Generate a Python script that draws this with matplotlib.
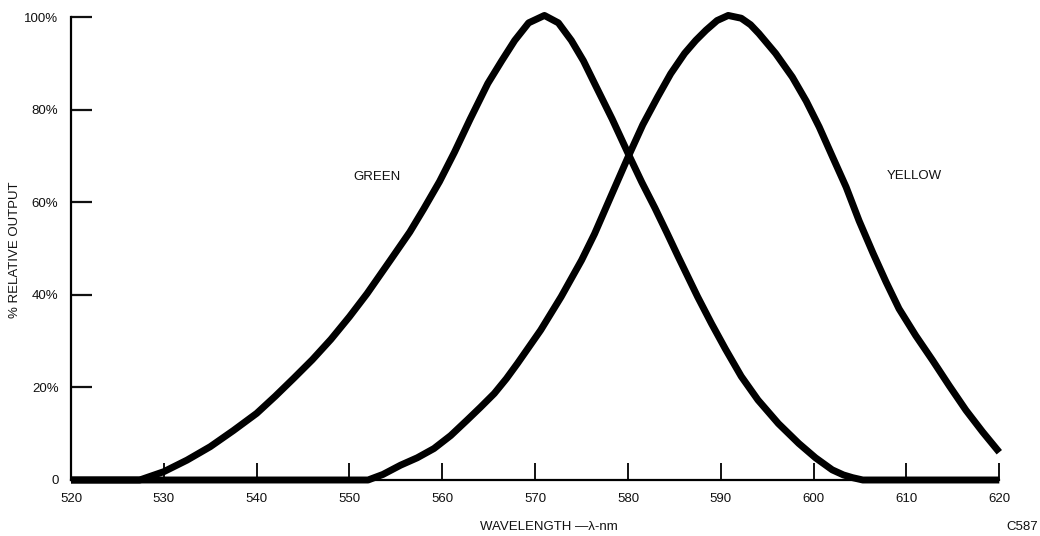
import matplotlib
matplotlib.use("Agg")
import matplotlib.pyplot as plt

plt.rcParams['font.family'] = ['Liberation Sans', 'DejaVu Sans']

# Data
green_nm = [520, 527.4, 530, 532.5, 535, 537.5, 540, 542, 544, 546, 548, 550,
            551.9, 554.4, 556.5, 558, 559.7, 561.3, 563, 564.9, 566.4, 567.8,
            569.3, 571.0, 572.5, 573.9, 575.2, 576.4, 578.3, 580.1, 581.5,
            582.9, 584.2, 585.4, 587.5, 589, 590.5, 592.2, 594, 596.2, 598.4,
            600.2, 602, 603.2, 604.2, 605.3, 620]
green_pct = [0, 0, 1.8, 4.3, 7.2, 10.7, 14.4, 18.1, 22.0, 26.0, 30.4, 35.3,
             40.3, 47.5, 53.6, 58.6, 64.5, 70.8, 78.0, 85.7, 90.6, 95.0,
             98.8, 100.4, 98.8, 95.0, 90.6, 85.7, 78.0, 70.2, 64.3,
             58.8, 53.4, 48.3, 39.6, 33.8, 28.3, 22.4, 17.3, 12.2, 7.9,
             4.8, 2.2, 1.1, 0.5, 0, 0]

yellow_nm = [520, 552.0, 553.6, 555.5, 557.3, 559.1, 560.9, 562.7, 564.1,
             565.6, 566.9, 568.1, 570.6, 572.8, 575.0, 576.4, 578.2, 580.1,
             581.6, 583.2, 584.6, 586.1, 587.3, 588.4, 589.6, 590.8, 592.2,
             593.2, 594.1, 595.9, 597.7, 599.2, 600.6, 602.0, 603.5, 604.9,
             606.4, 607.8, 609.2, 611.0, 612.8, 614.6, 616.4, 618.2, 620]
yellow_pct = [0, 0, 1.2, 3.2, 4.8, 6.8, 9.6, 13.0, 15.7, 18.7, 21.9, 25.2,
              32.4, 39.6, 47.5, 53.2, 61.5, 70.2, 76.8, 82.8, 87.8, 92.2,
              95.0, 97.2, 99.3, 100.4, 99.8, 98.4, 96.5, 92.2, 87.1, 81.9,
              76.3, 70.0, 63.3, 56.0, 49.0, 42.8, 37.0, 31.2, 25.9, 20.4,
              15.1, 10.4, 6.0]

x_ticks = [520, 530, 540, 550, 560, 570, 580, 590, 600, 610, 620]
y_ticks = [0, 20, 40, 60, 80, 100]
y_tick_labels = ['0', '20%', '40%', '60%', '80%', '100%']

fig = plt.figure(figsize=(10.4, 5.36), dpi=100)
ax = fig.add_axes([71/1040, 56/536, 928.3/1040, 462.7/536])

for xs, ys in ((green_nm, green_pct), (yellow_nm, yellow_pct)):
    ax.plot(xs, ys, color='black', lw=5.0, solid_capstyle='butt',
            solid_joinstyle='round', clip_on=False, zorder=3)

ax.set_xlim(520, 620)
ax.set_ylim(0, 100)
for s in ('top', 'right'):
    ax.spines[s].set_visible(False)
ax.spines['left'].set_linewidth(1.6)
ax.spines['bottom'].set_linewidth(1.6)

ax.set_xticks(x_ticks)
ax.set_xticklabels([str(t) for t in x_ticks])
ax.set_yticks(y_ticks)
ax.set_yticklabels(y_tick_labels)
ax.tick_params(axis='x', direction='in', length=12, width=1.4, pad=9,
               labelsize=9.5, colors='#111111')
ax.tick_params(axis='y', direction='in', length=15, width=1.6, pad=9,
               labelsize=9.5, colors='#111111')

ax.text(553.0, 65.4, 'GREEN', ha='center', va='center', fontsize=9.5,
        color='#111111')
ax.text(610.8, 65.7, 'YELLOW', ha='center', va='center', fontsize=9.5,
        color='#111111')

fig.text(549/1040, 1 - 527/536, 'WAVELENGTH \u2014\u03bb-nm', ha='center',
         va='center', fontsize=9.5, color='#111111')
fig.text(1038/1040, 1 - 527/536, 'C587', ha='right', va='center',
         fontsize=9.5, color='#111111')
fig.text(15/1040, 1 - 250/536, '% RELATIVE OUTPUT', rotation=90,
         ha='center', va='center', fontsize=9.5, color='#111111')

fig.savefig('out.png', dpi=100)
